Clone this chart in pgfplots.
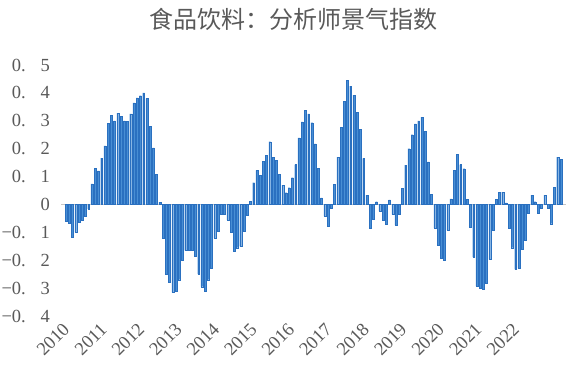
\documentclass[border=0pt]{standalone}
\usepackage{fontspec}
\setmainfont{Liberation Serif}
\newfontfamily\cjk{Noto Sans CJK SC}
\usepackage{pgfplots}
\pgfplotsset{compat=1.18}
\definecolor{txt}{RGB}{89,89,89}
\definecolor{barfill}{RGB}{72,142,212}
\definecolor{baredge}{RGB}{42,112,192}
\newcommand{\hs}{\hspace{0.8em}}
\begin{document}
\begin{tikzpicture}
\begin{axis}[
  scale only axis,
  width=512.7pt, height=251pt,
  xmin=-4, xmax=154.5,
  ymin=-0.4, ymax=0.5,
  axis line style={draw=none},
  tick style={draw=none},
  ytick={-0.4,-0.3,-0.2,-0.1,0,0.1,0.2,0.3,0.4,0.5},
  yticklabels={−0.\hs4,−0.\hs3,−0.\hs2,−0.\hs1,0,0.\hs1,0.\hs2,0.\hs3,0.\hs4,0.\hs5},
  xtick={-3.09,8.50,20.09,31.68,43.27,54.86,66.45,78.04,89.63,101.22,112.81,124.40,135.99},
  xticklabels={2010,2011,2012,2013,2014,2015,2016,2017,2018,2019,2020,2021,2022},
  ticklabel style={font=\fontsize{18.5}{18.5}\selectfont, text=txt},
  yticklabel style={anchor=east, inner sep=0pt, xshift=-3pt},
  xticklabel style={rotate=45, anchor=north east, inner sep=0pt, yshift=-8pt},
  clip=false,
]
\draw[gray!45, line width=0.8pt] (axis cs:-1.5,0) -- (axis cs:154.5,0);
\addplot[ybar, bar width=1.9pt, fill=barfill, draw=baredge, line width=0.25pt] coordinates {
(0,-0.06) (1,-0.067) (2,-0.117) (3,-0.10) (4,-0.063) (5,-0.055) (6,-0.043) (7,-0.016)
(8,0.074) (9,0.13) (10,0.12) (11,0.166) (12,0.21) (13,0.29) (14,0.32) (15,0.30)
(16,0.327) (17,0.315) (18,0.30) (19,0.297) (20,0.325) (21,0.364) (22,0.382) (23,0.39)
(24,0.40) (25,0.38) (26,0.28) (27,0.203) (28,0.107) (29,0.008)
(30,-0.12) (31,-0.25) (32,-0.28) (33,-0.315) (34,-0.31) (35,-0.27) (36,-0.20) (37,-0.165)
(38,-0.165) (39,-0.165) (40,-0.185) (41,-0.25) (42,-0.295) (43,-0.31) (44,-0.27) (45,-0.23)
(46,-0.12) (47,-0.095) (48,-0.035) (49,-0.035) (50,-0.055) (51,-0.098) (52,-0.167) (53,-0.155)
(54,-0.15) (55,-0.096) (56,-0.04)
(57,0.012) (58,0.078) (59,0.122) (60,0.105) (61,0.155) (62,0.177) (63,0.225) (64,0.17)
(65,0.158) (66,0.108) (67,0.069) (68,0.042) (69,0.06) (70,0.096) (71,0.143) (72,0.239)
(73,0.296) (74,0.337) (75,0.325) (76,0.293) (77,0.217) (78,0.129) (79,0.024)
(80,-0.042) (81,-0.078) (82,-0.012)
(83,0.072) (84,0.17) (85,0.277) (86,0.37) (87,0.446) (88,0.424) (89,0.392) (90,0.331)
(91,0.269) (92,0.165) (93,0.033)
(94,-0.086) (95,-0.054) (96,0.01) (97,-0.024) (98,-0.056) (99,-0.072) (100,0.016) (101,-0.036)
(102,-0.074) (103,-0.036)
(104,0.057) (105,0.141) (106,0.2) (107,0.25) (108,0.289) (109,0.30) (110,0.313) (111,0.263)
(112,0.153) (113,0.036)
(114,-0.084) (115,-0.147) (116,-0.194) (117,-0.2) (118,-0.092)
(119,0.02) (120,0.122) (121,0.18) (122,0.143) (123,0.128) (124,0.018)
(125,-0.081) (126,-0.189) (127,-0.293) (128,-0.301) (129,-0.305) (130,-0.281) (131,-0.197) (132,-0.093)
(133,0.018) (134,0.044) (135,0.044) (136,0.006)
(137,-0.086) (138,-0.155) (139,-0.233) (140,-0.229) (141,-0.161) (142,-0.129) (143,-0.032)
(144,0.033) (145,0.01) (146,-0.03) (147,-0.012) (148,0.033) (149,-0.012) (150,-0.069)
(151,0.062) (152,0.17) (153,0.161)
};
\end{axis}
\node[font=\cjk\fontsize{24}{24}\selectfont, text=txt] at (240.9pt,297pt) {食品饮料：分析师景气指数};
\pgfresetboundingbox
\path[use as bounding box] (-53.06pt,-56pt) rectangle (516.94pt,316pt);
\end{tikzpicture}
\end{document}
